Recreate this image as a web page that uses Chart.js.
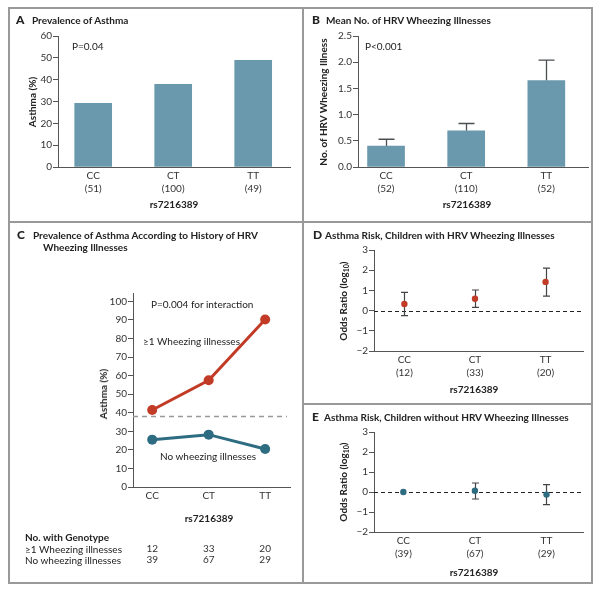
<!DOCTYPE html>
<html>
<head>
<meta charset="utf-8">
<script src="https://cdn.jsdelivr.net/npm/chart.js@4.4.1/dist/chart.umd.min.js"></script>
<style>
body { margin: 0; background: #fff; width: 600px; height: 591px; position: relative; overflow: hidden; font-family: Lato, 'Open Sans', sans-serif; color: #222; }
canvas { position: absolute; left: 0; top: 0; }
.t { position: absolute; font-size: 10px; line-height: 12px; white-space: nowrap; }
.b { font-weight: bold; }
.letter { font-size: 12px; font-weight: 900; }
.rule { position: absolute; background: #999; }
sub { font-size: 7px; vertical-align: -2px; line-height: 0; }
</style>
</head>
<body>
<div class="rule" style="left:8px;top:7px;width:585px;height:1.5px"></div>
<div class="rule" style="left:8px;top:582px;width:585px;height:1.5px"></div>
<div class="rule" style="left:8px;top:7px;width:1.5px;height:577px"></div>
<div class="rule" style="left:591px;top:7px;width:1.5px;height:577px"></div>
<div class="rule" style="left:302px;top:7px;width:1.5px;height:577px"></div>
<div class="rule" style="left:8px;top:221px;width:585px;height:1.5px"></div>
<div class="rule" style="left:302px;top:403px;width:290px;height:1.5px"></div>
<script>
// data
const genotypes = ['CC', 'CT', 'TT'];
const snp = 'rs7216389';

// A: prevalence of asthma
const asthmaN = [51, 100, 49];
const asthmaPct = [29.2, 37.9, 48.8];

// B: mean no. of HRV wheezing illnesses
const hrvN = [52, 110, 52];
const hrvMean = [0.40, 0.69, 1.65];
const hrvUpper = [0.53, 0.83, 2.04];

// C: asthma by history of HRV wheezing
const withWheeze = [41.5, 57.5, 90.2];
const noWheeze = [25.5, 28.2, 20.5];
const overallAsthma = 38.2;
const cTicks = [0, 10, 20, 30, 40, 50, 60, 70, 80, 90, 100];
const nWithWheeze = [12, 33, 20];
const nNoWheeze = [39, 67, 29];

// D: odds ratio (log10), children with HRV wheezing
const orWith = [0.33, 0.59, 1.42];
const orWithLo = [-0.25, 0.16, 0.72];
const orWithHi = [0.90, 1.02, 2.10];

// E: odds ratio (log10), children without HRV wheezing
const orWithout = [0, 0.06, -0.13];
const orWithoutLo = [0, -0.35, -0.63];
const orWithoutHi = [0, 0.45, 0.37];

const BAR = '#6a98ad';
const RED = '#c23b27';
const BLUE = '#2e6c82';
const AXIS = '#555';
const TXT = '#333';

Chart.defaults.font.family = "Lato, 'Open Sans', sans-serif";
Chart.defaults.font.size = 10;
Chart.defaults.color = TXT;

function label(html, x, y, cls, center) {
  const d = document.createElement('div');
  d.className = 't ' + (cls || '');
  d.innerHTML = html;
  d.style.left = x + 'px';
  d.style.top = y + 'px';
  d.style.transform = center ? 'translate(-50%,-50%)' : 'translateY(-50%)';
  document.body.appendChild(d);
}

function vlabel(html, x, y) {
  const d = document.createElement('div');
  d.className = 't b';
  d.innerHTML = html;
  d.style.left = x + 'px';
  d.style.top = y + 'px';
  d.style.transform = 'translate(-50%,-50%) rotate(-90deg)';
  document.body.appendChild(d);
}

function makeCanvas() {
  const c = document.createElement('canvas');
  c.width = 600;
  c.height = 591;
  document.body.appendChild(c);
  return c;
}

const extras = {
  id: 'extras',
  beforeDatasetsDraw(chart, args, o) {
    const { ctx, chartArea, scales: { x, y } } = chart;
    ctx.save();
    if (o.ref != null) {
      const py = Math.round(y.getPixelForValue(o.ref.value)) + 0.5;
      ctx.strokeStyle = o.ref.color;
      ctx.lineWidth = o.ref.width;
      ctx.setLineDash(o.ref.dash);
      ctx.beginPath();
      ctx.moveTo(chartArea.left, py);
      ctx.lineTo(chartArea.right - (o.ref.endGap || 0), py);
      ctx.stroke();
      ctx.setLineDash([]);
    }
    if (o.err) {
      ctx.strokeStyle = o.err.color;
      ctx.lineWidth = o.err.width;
      o.err.mid.forEach(function(m, i) {
        const lo = o.err.lo ? o.err.lo[i] : m;
        const hi = o.err.hi[i];
        if (lo === hi) return;
        const px = Math.round(x.getPixelForValue(i)) + 0.5;
        const y1 = y.getPixelForValue(lo), y2 = y.getPixelForValue(hi);
        const h = o.err.cap / 2;
        ctx.beginPath();
        ctx.moveTo(px, y1); ctx.lineTo(px, y2);
        ctx.moveTo(px - h, y2); ctx.lineTo(px + h, y2);
        if (o.err.lo) { ctx.moveTo(px - h, y1); ctx.lineTo(px + h, y1); }
        ctx.stroke();
      });
    }
    ctx.restore();
  },
  afterDraw(chart, args, o) {
    if (!o.rows) return;
    const { ctx, scales: { x } } = chart;
    ctx.save();
    ctx.fillStyle = TXT;
    ctx.font = "10px Lato, 'Open Sans', sans-serif";
    ctx.textAlign = 'center';
    ctx.textBaseline = 'middle';
    o.rows.forEach(function(r) {
      r.values.forEach(function(v, i) { ctx.fillText(String(v), x.getPixelForValue(i), r.y); });
    });
    ctx.restore();
  }
};

function yAxis(min, max, step, fmt, tickList) {
  const s = {
    type: 'linear', min: min, max: max,
    ticks: { stepSize: step, padding: 1, color: TXT, font: { size: 10 }, callback: fmt || function(v) { return String(v).replace('-', '\u2212'); } },
    grid: { display: true, drawOnChartArea: false, drawTicks: true, tickLength: 5, color: AXIS, lineWidth: 1 },
    border: { display: true, color: AXIS, width: 1 },
    afterFit: function(sc) { sc.width = 30; }
  };
  if (tickList) s.afterBuildTicks = function(sc) { sc.ticks = tickList.map(function(v) { return { value: v }; }); };
  return s;
}

function xAxis(min, max, fmt) {
  return {
    type: 'linear', min: min, max: max, offset: false,
    afterBuildTicks: function(sc) { sc.ticks = genotypes.map(function(g, i) { return { value: i }; }); },
    ticks: { padding: 2, color: TXT, font: { size: 10, lineHeight: 1.3 }, maxRotation: 0, autoSkip: false, callback: fmt },
    grid: { display: false, drawTicks: false, offset: false },
    border: { display: true, color: AXIS, width: 1 },
    afterFit: function(sc) { sc.height = 30; }
  };
}

function options(box, x, y, extra) {
  return {
    responsive: false, animation: false, devicePixelRatio: 1,
    layout: { padding: { left: box.l - 30, top: box.t, right: 600 - box.r, bottom: 591 - box.b - 30 } },
    plugins: { legend: { display: false }, tooltip: { enabled: false }, extras: extra || {} },
    scales: { x: x, y: y }
  };
}

function pts(arr) { return arr.map(function(v, i) { return { x: i, y: v }; }); }

// A
new Chart(makeCanvas(), {
  type: 'bar',
  data: { datasets: [{ data: pts(asthmaPct), backgroundColor: BAR, barThickness: 37 }] },
  options: options({ l: 58, t: 36, r: 290, b: 167 },
    xAxis(-0.44, 2.46, function(v) { return [genotypes[v], '(' + asthmaN[v] + ')']; }),
    yAxis(0, 60, 10)),
  plugins: [extras]
});

// B
new Chart(makeCanvas(), {
  type: 'bar',
  data: { datasets: [{ data: pts(hrvMean), backgroundColor: BAR, barThickness: 37 }] },
  options: options({ l: 358, t: 36, r: 588, b: 167 },
    xAxis(-0.35, 2.52, function(v) { return [genotypes[v], '(' + hrvN[v] + ')']; }),
    yAxis(0, 2.5, 0.5, function(v) { return v.toFixed(1); }),
    { err: { mid: hrvMean, hi: hrvUpper, cap: 16, color: '#4a4f52', width: 1.3 } }),
  plugins: [extras]
});

// C
new Chart(makeCanvas(), {
  type: 'line',
  data: { datasets: [
    { data: pts(withWheeze), borderColor: RED, backgroundColor: RED, borderWidth: 3, pointRadius: 5, pointBorderWidth: 0, pointBackgroundColor: RED },
    { data: pts(noWheeze), borderColor: BLUE, backgroundColor: BLUE, borderWidth: 3, pointRadius: 5, pointBorderWidth: 0, pointBackgroundColor: BLUE }
  ] },
  options: options({ l: 133, t: 293, r: 290, b: 487 },
    xAxis(-0.34, 2.44, function(v) { return genotypes[v]; }),
    yAxis(0, 104.5, 10, null, cTicks),
    { ref: { value: overallAsthma, color: '#999', width: 1.5, dash: [5, 4], endGap: 3 },
      rows: [{ y: 549, values: nWithWheeze }, { y: 560, values: nNoWheeze }] }),
  plugins: [extras]
});

// D
new Chart(makeCanvas(), {
  type: 'scatter',
  data: { datasets: [{ data: pts(orWith), backgroundColor: RED, pointRadius: 3.2, pointBorderWidth: 0 }] },
  options: options({ l: 374, t: 250, r: 583, b: 351 },
    xAxis(-0.43, 2.53, function(v) { return [genotypes[v], '(' + nWithWheeze[v] + ')']; }),
    yAxis(-2, 3, 1),
    { ref: { value: 0, color: '#222', width: 1, dash: [4, 3] },
      err: { mid: orWith, lo: orWithLo, hi: orWithHi, cap: 7, color: '#444', width: 1.2 } }),
  plugins: [extras]
});

// E
new Chart(makeCanvas(), {
  type: 'scatter',
  data: { datasets: [{ data: pts(orWithout), backgroundColor: BLUE, pointRadius: 3.2, pointBorderWidth: 0 }] },
  options: options({ l: 374, t: 432, r: 583, b: 532 },
    xAxis(-0.41, 2.51, function(v) { return [genotypes[v], '(' + nNoWheeze[v] + ')']; }),
    yAxis(-2, 3, 1),
    { ref: { value: 0, color: '#222', width: 1, dash: [4, 3] },
      err: { mid: orWithout, lo: orWithoutLo, hi: orWithoutHi, cap: 7, color: '#444', width: 1.2 } }),
  plugins: [extras]
});

// titles and annotations
label('A', 16, 20, 'letter');
label('Prevalence of Asthma', 32, 20, 'b');
label('P=0.04', 72, 46);
vlabel('Asthma (%)', 32, 102);
label(snp, 174, 204, 'b', true);

label('B', 312, 20, 'letter');
label('Mean No. of HRV Wheezing Illnesses', 326, 20, 'b');
label('P&lt;0.001', 365, 46);
vlabel('No. of HRV Wheezing Illness', 323, 102);
label(snp, 467, 204, 'b', true);

label('C', 17, 235, 'letter');
label('Prevalence of Asthma According to History of HRV', 33, 235, 'b');
label('Wheezing Illnesses', 43, 247, 'b');
label('P=0.004 for interaction', 151, 304);
label('\u22651 Wheezing illnesses', 143, 341);
label('No wheezing illnesses', 160, 456);
vlabel('Asthma (%)', 103, 394);
label(snp, 209, 518, 'b', true);
label('No. with Genotype', 25, 537, 'b');
label('\u22651 Wheezing illnesses', 25, 549);
label('No wheezing illnesses', 25, 560);

label('D', 313, 235, 'letter');
label('Asthma Risk, Children with HRV Wheezing Illnesses', 325, 235, 'b');
vlabel('Odds Ratio (log<sub>10</sub>)', 343, 301);
label(snp, 474, 389, 'b', true);

label('E', 312, 417, 'letter');
label('Asthma Risk, Children without HRV Wheezing Illnesses', 324, 417, 'b');
vlabel('Odds Ratio (log<sub>10</sub>)', 343, 482);
label(snp, 474, 572, 'b', true);
</script>
</body>
</html>
